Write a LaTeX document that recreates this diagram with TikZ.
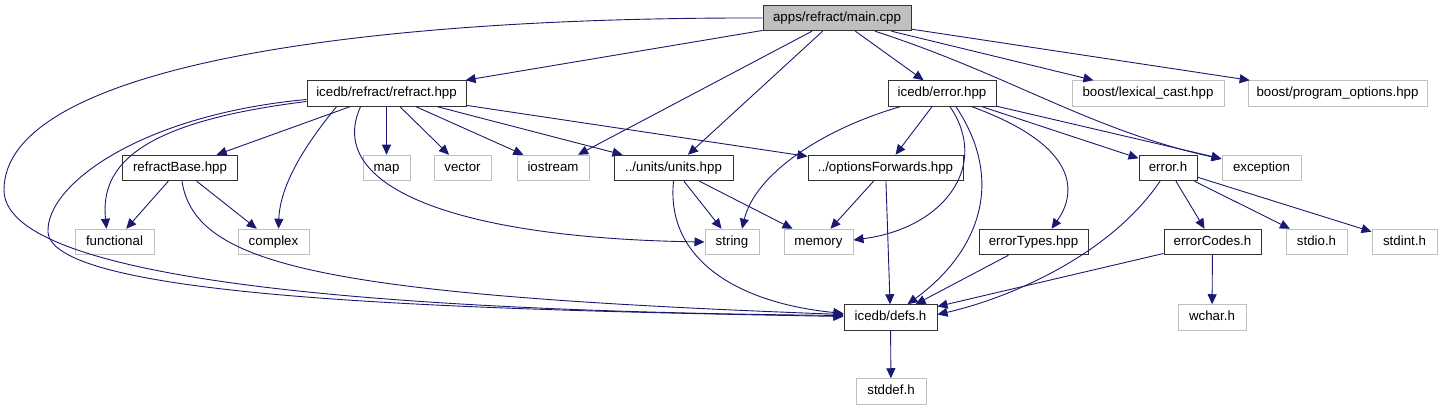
\documentclass[tikz,border=0pt]{standalone}
\usepackage{fontspec}
\setmainfont{Liberation Sans}
\usepackage{xcolor}
\usepackage{tikz}
\usetikzlibrary{arrows.meta, positioning}

\definecolor{edgeblue}{HTML}{191970}
\definecolor{extgrey}{HTML}{BFBFBF}

\begin{document}
\begin{tikzpicture}[
    x=1pt, y=-1pt,
    hnode/.style={rectangle, draw=black!80, fill=white, line width=1pt, minimum height=25.5pt, inner xsep=3pt, inner ysep=0pt, text height=9.5pt, text depth=2.7pt, font=\fontsize{13.3}{15}\selectfont},
    xnode/.style={hnode, draw=extgrey},
    rootnode/.style={hnode, fill=extgrey},
    arr/.style={-{Triangle[length=10pt, width=9pt]}, line width=0.9pt, color=edgeblue}
]
\useasboundingbox (0,0) rectangle (1442,411);

% top row
\node[rootnode, minimum width=148] (main) at (837,18) {apps/refract/main.cpp};

% second row
\node[hnode, minimum width=159] (refract) at (386.5,93.5) {icedb/refract/refract.hpp};
\node[hnode, minimum width=108] (errhpp) at (942,93.5) {icedb/error.hpp};
\node[xnode, minimum width=152] (lexcast) at (1148,93.5) {boost/lexical\_cast.hpp};
\node[xnode, minimum width=179] (progopt) at (1337.5,93.5) {boost/program\_options.hpp};

% third row
\node[hnode, minimum width=115] (rbase) at (180,168) {refractBase.hpp};
\node[xnode, minimum width=47] (map) at (386.5,168) {map};
\node[xnode, minimum width=57] (vector) at (462.5,168) {vector};
\node[xnode, minimum width=72] (iostream) at (553,168) {iostream};
\node[hnode, minimum width=119] (units) at (673.5,168) {../units/units.hpp};
\node[hnode, minimum width=155] (optfwd) at (885.5,168) {../optionsForwards.hpp};
\node[hnode, minimum width=58] (errh) at (1168,168) {error.h};
\node[xnode, minimum width=79] (exception) at (1261.5,168) {exception};

% fourth row
\node[xnode, minimum width=79] (functional) at (114.5,242) {functional};
\node[xnode, minimum width=71] (complex) at (273.5,242) {complex};
\node[xnode, minimum width=54] (string) at (732,242) {string};
\node[xnode, minimum width=69] (memory) at (818.5,242) {memory};
\node[hnode, minimum width=109] (errtypes) at (1033.5,242) {errorTypes.hpp};
\node[hnode, minimum width=97] (errcodes) at (1212.5,242) {errorCodes.h};
\node[xnode, minimum width=61] (stdio) at (1316.5,242) {stdio.h};
\node[xnode, minimum width=65] (stdint) at (1404.5,242) {stdint.h};

% bottom rows
\node[hnode, minimum width=93] (defs) at (890.5,317.5) {icedb/defs.h};
\node[xnode, minimum width=68] (wchar) at (1212,317.5) {wchar.h};
\node[xnode, minimum width=70] (stddef) at (891,391.5) {stddef.h};

% main.cpp
\draw[arr] (main) -- (refract);
\draw[arr] (main) -- (iostream);
\draw[arr] (main) -- (units);
\draw[arr] (main) -- (errhpp);
\draw[arr] (main) -- (lexcast);
\draw[arr] (main) -- (progopt);
\draw[arr] ([xshift=38pt]main.south) .. controls (1010,75) and (1090,130) .. ([yshift=9pt]exception.west);
\draw[arr] (main.west) .. controls (340,17) and (4,70) .. (4,190) .. controls (4,292) and (480,312) .. ([yshift=2pt]defs.west);

% refract.hpp
\draw[arr] (refract) -- (rbase);
\draw[arr] (refract) -- (map);
\draw[arr] (refract) -- (vector);
\draw[arr] (refract) -- (iostream);
\draw[arr] (refract) -- (units);
\draw[arr] (refract) -- (optfwd);
\draw[arr] ([yshift=-8pt]refract.west) .. controls (140,122) and (100,165) .. ([xshift=-8pt]functional.north);
\draw[arr] ([xshift=-50pt]refract.south) .. controls (305,145) and (280,185) .. ([xshift=5pt]complex.north);
\draw[arr] ([xshift=-26pt]refract.south) .. controls (325,185) and (450,238) .. (string.west);
\draw[arr] ([yshift=-6pt]refract.west) .. controls (140,115) and (46,185) .. (48,232) .. controls (52,300) and (480,310) .. ([yshift=1pt]defs.west);

% refractBase.hpp
\draw[arr] (rbase) -- (functional);
\draw[arr] (rbase) -- (complex);
\draw[arr] ([xshift=2pt]rbase.south) .. controls (195,265) and (320,295) .. ([yshift=3pt]defs.west);

% units.hpp and optionsForwards.hpp
\draw[arr] (units) -- (string);
\draw[arr] (units) -- (memory);
\draw[arr] (units.south) .. controls (666,255) and (730,302) .. ([yshift=4pt]defs.west);
\draw[arr] (optfwd) -- (memory);
\draw[arr] (optfwd) -- (defs);

% error.hpp
\draw[arr] (errhpp) -- (optfwd);
\draw[arr] (errhpp) -- (errh);
\draw[arr] (errhpp) -- (exception);
\draw[arr] ([xshift=-42pt]errhpp.south) .. controls (820,130) and (755,175) .. ([xshift=10pt]string.north);
\draw[arr] ([xshift=8pt]errhpp.south) .. controls (990,165) and (945,228) .. ([yshift=2pt]memory.east);
\draw[arr] ([xshift=14pt]errhpp.south) .. controls (1008,185) and (975,255) .. ([xshift=17pt]defs.north);
\draw[arr] ([xshift=30pt]errhpp.south) .. controls (1090,150) and (1072,200) .. ([xshift=18pt]errtypes.north);

% error.h and below
\draw[arr] (errh) -- (errcodes);
\draw[arr] (errh) -- (stdio);
\draw[arr] (errh) -- (stdint);
\draw[arr] ([xshift=-8pt]errh.south) .. controls (1110,255) and (1010,298) .. ([yshift=3pt]defs.east);
\draw[arr] (errtypes) -- (defs);
\draw[arr] (errcodes) -- (defs);
\draw[arr] (errcodes) -- (wchar);
\draw[arr] (defs) -- (stddef);

\end{tikzpicture}
\end{document}
